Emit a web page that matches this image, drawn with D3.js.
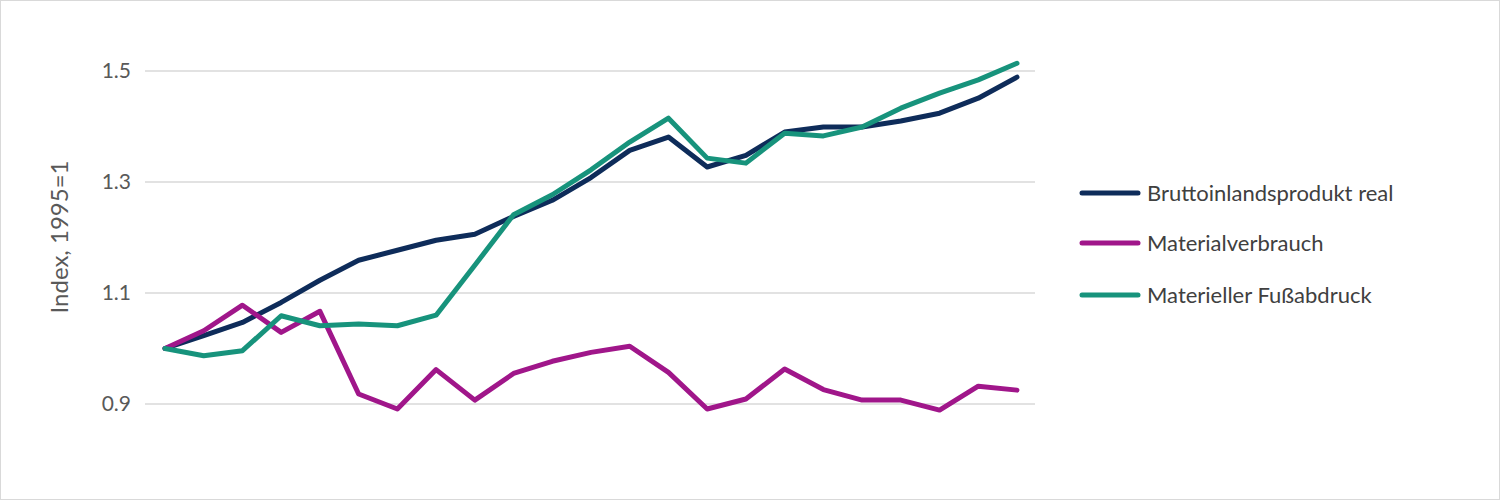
<!DOCTYPE html>
<html><head><meta charset="utf-8">
<script src="https://cdn.jsdelivr.net/npm/d3@7"></script>
<style>body{margin:0;background:#fff}svg{display:block}</style>
</head><body><svg id="c" width="1500" height="500"></svg>
<script>
const years = d3.range(1995, 2018);
const yTicks = [0.9, 1.1, 1.3, 1.5];
const seriesNames = ["Bruttoinlandsprodukt real", "Materialverbrauch", "Materieller Fußabdruck"];
const bip = [1.0,1.023,1.047,1.083,1.123,1.159,1.177,1.195,1.206,1.238,1.267,1.308,1.357,1.381,1.327,1.348,1.390,1.399,1.399,1.410,1.424,1.451,1.489];
const material = [1.0,1.032,1.078,1.029,1.067,0.918,0.891,0.962,0.907,0.955,0.977,0.993,1.004,0.957,0.891,0.909,0.963,0.926,0.907,0.907,0.889,0.932,0.925];
const fuss = [1.0,0.987,0.996,1.059,1.041,1.044,1.041,1.060,1.150,1.241,1.277,1.322,1.372,1.415,1.343,1.334,1.388,1.383,1.399,1.433,1.460,1.484,1.514];
const colors = ["#0e2c5a", "#a0168a", "#17937c"];
const all = [bip, material, fuss];

const svg = d3.select("#c");
svg.append("rect").attr("x",0.5).attr("y",0.5).attr("width",1499).attr("height",499).attr("fill","#fff").attr("stroke","#d9d9d9");
const font = "Lato, 'Open Sans', sans-serif";
const x = d3.scalePoint().domain(years).range([165, 1017]);
const y = d3.scaleLinear().domain([0.8, 1.6]).range([459.5, 15.5]);

svg.append("g").selectAll("line").data(yTicks).join("line")
  .attr("x1",145).attr("x2",1035).attr("y1",d=>y(d)).attr("y2",d=>y(d))
  .attr("stroke","#d9d9d9").attr("stroke-width",1.3);
const ax = svg.append("g").attr("transform","translate(145,0)")
  .call(d3.axisLeft(y).tickValues(yTicks).tickFormat(d3.format(".1f")).tickSize(0).tickPadding(14));
ax.select(".domain").remove();
ax.selectAll("text").attr("font-family",font).attr("font-size",21).attr("fill","#595959");

svg.append("text").attr("transform","translate(68,237) rotate(-90)").attr("text-anchor","middle")
  .attr("font-family",font).attr("font-size",24).attr("fill","#595959").text("Index, 1995=1");

const line = d3.line().x((d,i)=>x(years[i])).y(d=>y(d));
all.forEach((s,k)=>{
  svg.append("path").attr("d",line(s)).attr("fill","none").attr("stroke",colors[k])
    .attr("stroke-width",5).attr("stroke-linejoin","round").attr("stroke-linecap","round");
});
const ly = [193, 243, 295];
seriesNames.forEach((n,k)=>{
  svg.append("line").attr("x1",1082).attr("x2",1138).attr("y1",ly[k]).attr("y2",ly[k])
    .attr("stroke",colors[k]).attr("stroke-width",5).attr("stroke-linecap","round");
  svg.append("text").attr("x",1147).attr("y",ly[k]).attr("dy","0.35em")
    .attr("font-family",font).attr("font-size",22).attr("fill","#404040").text(n);
});
</script></body></html>
